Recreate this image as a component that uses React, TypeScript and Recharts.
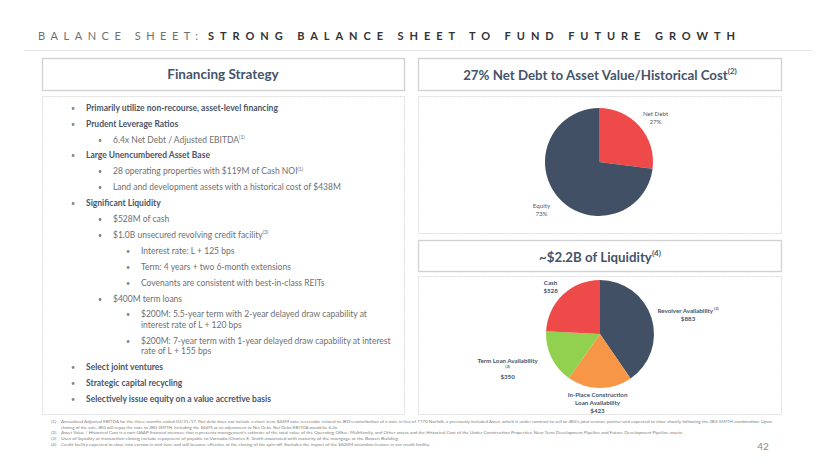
import { Cell, Pie, PieChart } from "recharts"

// pie 1: net debt vs equity (%)
const debtNames = ["Net Debt", "Equity"]
const debtValues = [27, 73]

// pie 2: liquidity sources ($M)
const liquidityNames = [
  "Revolver Availability",
  "In-Place Construction\nLoan Availability",
  "Term Loan Availability",
  "Cash",
]
const liquidityValues = [883, 423, 350, 528]
const liquidityNotes = ["(3)", "", "(3)", ""]

const bullets = [
  { level: 1, bold: true, text: "Primarily utilize non-recourse, asset-level financing" },
  { level: 1, bold: true, text: "Prudent Leverage Ratios" },
  { level: 2, text: "6.4x Net Debt / Adjusted EBITDA", note: "(1)" },
  { level: 1, bold: true, text: "Large Unencumbered Asset Base" },
  { level: 2, text: "28 operating properties with $119M of Cash NOI", note: "(1)" },
  { level: 2, text: "Land and development assets with a historical cost of $438M" },
  { level: 1, bold: true, text: "Significant Liquidity" },
  { level: 2, text: "$528M of cash" },
  { level: 2, text: "$1.0B unsecured revolving credit facility", note: "(3)" },
  { level: 3, text: "Interest rate: L + 125 bps" },
  { level: 3, text: "Term: 4 years + two 6-month extensions" },
  { level: 3, text: "Covenants are consistent with best-in-class REITs" },
  { level: 2, text: "$400M term loans" },
  { level: 3, text: "$200M: 5.5-year term with 2-year delayed draw capability at", cont: "interest rate of L + 120 bps" },
  { level: 3, text: "$200M: 7-year term with 1-year delayed draw capability at interest", cont: "rate of L + 155 bps" },
  { level: 1, bold: true, text: "Select joint ventures" },
  { level: 1, bold: true, text: "Strategic capital recycling" },
  { level: 1, bold: true, text: "Selectively issue equity on a value accretive basis" },
]

const footnotes = [
  { num: "(1)", text: "Annualized Adjusted EBITDA for the three months ended 03/31/17. Net debt does not include a short term $44M note receivable related to JBG's contribution of a note in lieu of 7770 Norfolk, a previously included Asset, which is under contract to sell to JBG's joint venture partner and expected to close shortly following the JBG SMITH combination. Upon", w: 711 },
  { num: "", text: "closing of the sale, JBG will repay the note to JBG SMITH. Including the $44M as an adjustment to Net Debt, Net Debt/EBITDA would be 6.2x.", w: 277 },
  { num: "(2)", text: "Asset Value / Historical Cost is a non-GAAP financial measure that represents management's estimate of the total value of the Operating Office, Multifamily, and Other assets and the Historical Cost of the Under Construction Properties, Near Term Development Pipeline and Future Development Pipeline assets.", w: 622 },
  { num: "(3)", text: "Uses of liquidity at transaction closing include repayment of payable to Vornado/Charles E. Smith associated with maturity of the mortgage at the Bowen Building.", w: 338 },
  { num: "(4)", text: "Credit facility expected to close into escrow in mid-June and will become effective at the closing of the spin-off. Excludes the impact of the $600M accordion feature in our credit facility.", w: 369 },
]

const FONT = "Lato, 'Open Sans', sans-serif"
const SLATE = "#44546a"
const DARK = "#425066"
const RED = "#ef4a4a"
const ORANGE = "#f79646"
const GREEN = "#92d050"

const debtColors = [RED, DARK]
const liquidityColors = [DARK, ORANGE, GREEN, RED]

const debtData = debtNames.map((name, i) => ({ name, value: debtValues[i] }))
const liquidityData = liquidityNames.map((name, i) => ({
  name,
  value: liquidityValues[i],
  note: liquidityNotes[i],
}))

const RAD = Math.PI / 180
// nudges from a point just outside each slice, PowerPoint places these by hand
const debtNudge = [[7, -1], [-8, 3]]
const liquidityNudge = [[25, 0], [-2, 2], [-33, 4], [-4, 0]]
const noMargin = { top: 0, right: 0, bottom: 0, left: 0 }

function debtLabel(props: any) {
  const { cx, cy, midAngle, outerRadius, index, name, value } = props
  const r = outerRadius + 12
  const x = cx + r * Math.cos(-midAngle * RAD) + debtNudge[index][0]
  const y = cy + r * Math.sin(-midAngle * RAD) + debtNudge[index][1]
  return (
    <text textAnchor="middle" fontFamily={FONT} fontSize={6.2} fill="#595959" dominantBaseline="central">
      <tspan x={x} y={y - 4}>{name}</tspan>
      <tspan x={x} y={y + 4}>{`${value}%`}</tspan>
    </text>
  )
}

function liquidityLabel(props: any) {
  const { cx, cy, midAngle, outerRadius, index, name, value, payload } = props
  const note = payload?.note ?? liquidityNotes[index]
  const r = outerRadius + 12
  const x = cx + r * Math.cos(-midAngle * RAD) + liquidityNudge[index][0]
  const y = cy + r * Math.sin(-midAngle * RAD) + liquidityNudge[index][1]
  const lines = String(name).split("\n")
  const inline = note && lines.length === 1 && index === 0
  const stacked = note && !inline
  const total = lines.length * 8 + (stacked ? 6 : 0) + 8
  const top = y - total / 2 + 4
  return (
    <text textAnchor="middle" fontFamily={FONT} fontSize={6.2} fontWeight={700} fill={SLATE} dominantBaseline="central">
      {lines.map((l, i) => (
        <tspan key={i} x={x} y={top + i * 8}>
          {l}
          {inline && i === lines.length - 1 ? <tspan fontSize={4} dy={-2}>{` ${note}`}</tspan> : null}
        </tspan>
      ))}
      {stacked ? (
        <tspan x={x} y={top + lines.length * 8 - 2} fontSize={4}>{note}</tspan>
      ) : null}
      <tspan x={x} y={top + lines.length * 8 + (stacked ? 8 : 0)}>{`$${value}`}</tspan>
    </text>
  )
}

function Box({ x, y, w, h, dashed }: { x: number; y: number; w: number; h: number; dashed?: boolean }) {
  return (
    <rect
      x={x + 0.5}
      y={y + 0.5}
      width={w}
      height={h}
      fill="#fff"
      stroke={dashed ? "#dadada" : "#d2d2d2"}
      strokeWidth={dashed ? 1 : 1.4}
      strokeDasharray={dashed ? "2 1" : undefined}
    />
  )
}

const bulletX = { 1: [71, 86], 2: [98, 113], 3: [126, 141] } as Record<number, number[]>

function BulletList() {
  let y = 107.7
  const out: any[] = []
  bullets.forEach((b, i) => {
    if (i > 0) y += 15.9
    const [bx, tx] = bulletX[b.level]
    const color = b.bold ? "#4a5567" : "#6f6f6f"
    out.push(
      <g key={i} fontFamily={FONT} fontSize={8.5} dominantBaseline="central">
        <text x={bx} y={y} fill="#808080" fontSize={7}>•</text>
        <text x={tx} y={y} fill={color} fontWeight={b.bold ? 700 : 400}>
          {b.text}
          {b.note ? <tspan fontSize={5} dy={-2.8}>{b.note}</tspan> : null}
        </text>
      </g>
    )
    if (b.cont) {
      y += 10.5
      out.push(
        <text key={i + "c"} x={tx} y={y} fill={color} fontFamily={FONT} fontSize={8.5} dominantBaseline="central">
          {b.cont}
        </text>
      )
    }
  })
  return <g>{out}</g>
}

export default function App() {
  return (
    <div style={{ position: "absolute", left: 0, top: 0, width: 830, height: 467, background: "#fff", overflow: "hidden" }}>
      <svg width={830} height={467} style={{ position: "absolute", left: 0, top: 0 }}>
        {/* title */}
        <text x={38} y={35} fontFamily={FONT} fontSize={11} fill="#6f6f6f" dominantBaseline="central" textLength={160} lengthAdjust="spacing">
          BALANCE SHEET:
        </text>
        <text x={208} y={35} fontFamily={FONT} fontSize={11} fontWeight={700} fill="#333" dominantBaseline="central" textLength={527} lengthAdjust="spacing">
          STRONG BALANCE SHEET TO FUND FUTURE GROWTH
        </text>
        <line x1={24} x2={812} y1={50.5} y2={50.5} stroke="#e3e3e3" />

        {/* left panel */}
        <Box x={42} y={58} w={362} h={32} />
        <text x={223} y={74} textAnchor="middle" fontFamily={FONT} fontSize={13.5} fontWeight={700} fill={SLATE} dominantBaseline="central">
          Financing Strategy
        </text>
        <Box x={42} y={96} w={362} h={318} dashed />
        <BulletList />

        {/* right panels */}
        <Box x={418} y={58} w={363} h={32} />
        <text x={600} y={75} textAnchor="middle" fontFamily={FONT} fontSize={13.3} fontWeight={700} fill={SLATE} dominantBaseline="central">
          27% Net Debt to Asset Value/Historical Cost
          <tspan fontSize={8} dy={-4}>(2)</tspan>
        </text>
        <Box x={418} y={96} w={363} h={137} dashed />

        <Box x={418} y={240} w={363} h={31} />
        <text x={600} y={257} textAnchor="middle" fontFamily={FONT} fontSize={13.3} fontWeight={700} fill={SLATE} dominantBaseline="central">
          ~$2.2B of Liquidity
          <tspan fontSize={8} dy={-4}>(4)</tspan>
        </text>
        <Box x={418} y={276} w={363} h={138} dashed />

        {/* footnotes */}
        {footnotes.map((f, i) => (
          <g key={i} fontFamily={FONT} fontSize={4.6} fill="#808080" dominantBaseline="central">
            {f.num ? <text x={51} y={421 + i * 5.7}>{f.num}</text> : null}
            <text x={61} y={421 + i * 5.7} textLength={f.w} lengthAdjust="spacingAndGlyphs">
              {f.text}
            </text>
          </g>
        ))}
        <text x={763} y={446} textAnchor="middle" fontFamily={FONT} fontSize={10} fill="#8a8a8a" dominantBaseline="central">
          42
        </text>
      </svg>

      <div style={{ position: "absolute", left: 418, top: 97 }}>
        <PieChart width={363} height={136} margin={noMargin}>
          <Pie
            data={debtData}
            dataKey="value"
            nameKey="name"
            cx={181}
            cy={65}
            outerRadius={54}
            startAngle={90}
            endAngle={-270}
            stroke="none"
            label={debtLabel}
            labelLine={false}
            isAnimationActive={false}
          >
            {debtData.map((d, i) => (
              <Cell key={d.name} fill={debtColors[i]} />
            ))}
          </Pie>
        </PieChart>
      </div>

      <div style={{ position: "absolute", left: 418, top: 276 }}>
        <PieChart width={363} height={150} margin={noMargin}>
          <Pie
            data={liquidityData}
            dataKey="value"
            nameKey="name"
            cx={182}
            cy={58}
            outerRadius={54}
            startAngle={90}
            endAngle={-270}
            stroke="none"
            label={liquidityLabel}
            labelLine={false}
            isAnimationActive={false}
          >
            {liquidityData.map((d, i) => (
              <Cell key={d.name} fill={liquidityColors[i]} />
            ))}
          </Pie>
        </PieChart>
      </div>
    </div>
  )
}
